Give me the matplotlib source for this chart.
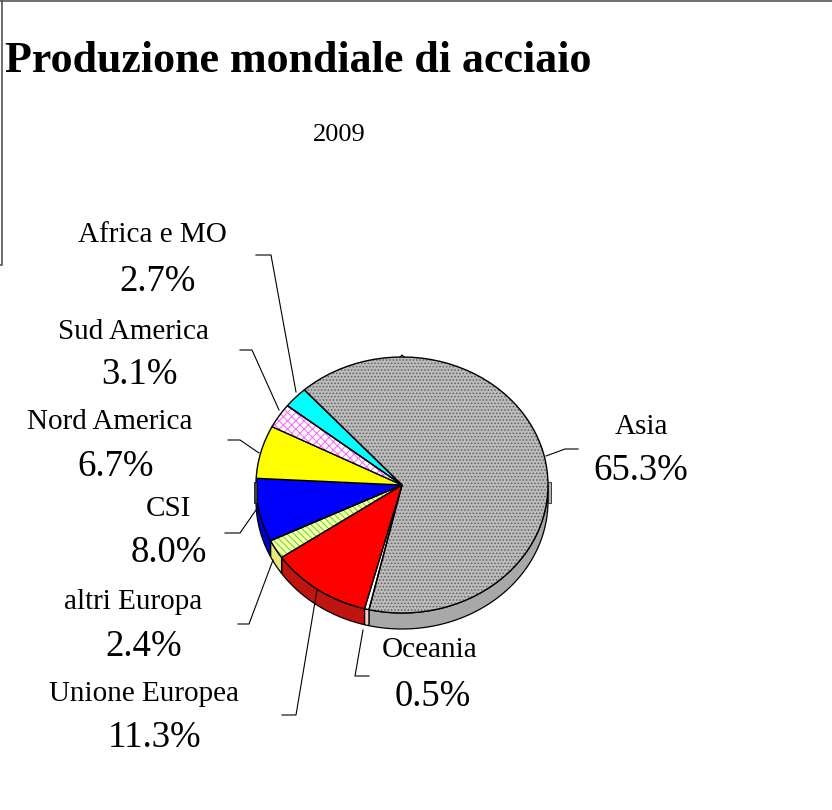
#!/usr/bin/env python3
"""Produzione mondiale di acciaio 2009 - pie with a fake 3D wall"""

import numpy as np
import matplotlib
matplotlib.use('Agg')
import matplotlib.pyplot as plt
from matplotlib.patches import Polygon, Rectangle, Wedge

plt.rcParams['font.family'] = ['Liberation Serif', 'DejaVu Serif']
plt.rcParams['hatch.linewidth'] = 0.7

# clockwise from Asia
names = ['Asia', 'Oceania', 'Unione Europea', 'altri Europa', 'CSI',
         'Nord America', 'Sud America', 'Africa e MO']
shares = [65.3, 0.5, 11.3, 2.4, 8.0, 6.7, 3.1, 2.7]

top_colors = ['#bcbcbc', '#ffffff', '#ff0000', '#ffffa8', '#0000ff',
              '#ffff00', '#ffffff', '#00ffff']
side_colors = ['#a8a8a8', '#ffc8c0', '#c01410', '#e8e878', '#0000c8',
               '#c8c800', '#e0c0e0', '#00c8c8']
hatches = ['.....', None, None, '\\\\\\\\\\', None, None, 'xxxx', None]
hatch_colors = ['#606060', None, None, '#40e040', None, None, '#ff60ff', None]

# pixel layout of the reference
W, H = 832, 810
CX, CY, RX, RY = 402, 485, 146, 128
DEPTH = 16

name_pos = [(641, 427), (430, 650), (144, 694), (133, 602),
            (168, 509), (110, 422), (133, 332), (152, 235)]
pct_pos = [(641, 471), (433, 697), (155, 738), (144, 647),
           (169, 553), (116, 467), (139, 375), (158, 282)]
leaders = [
    [(546, 456), (565, 449), (578, 449)],
    [(363, 630), (355, 676), (369, 676)],
    [(317, 590), (296, 715), (282, 715)],
    [(273, 560), (249, 624), (238, 624)],
    [(256, 510), (240, 533), (225, 533)],
    [(259, 453), (240, 440), (228, 440)],
    [(279, 410), (252, 350), (240, 350)],
    [(296, 392), (271, 255), (256, 255)],
]


def draw_pie(fig):
    """Elliptic pie in its own axes, box sized to the ellipse"""
    ax = fig.add_axes([(CX - RX) / W, 1 - (CY + RY) / H, 2 * RX / W, 2 * RY / H])
    wedges, _ = ax.pie(shares, colors=top_colors, startangle=132, counterclock=False,
                       radius=1.0, wedgeprops={'edgecolor': 'black', 'linewidth': 1.0})
    ax.set_aspect('auto')
    ax.set_xlim(-1, 1)
    ax.set_ylim(-1, 1)
    ax.patch.set_visible(False)

    drop = 2 * DEPTH / (2 * RY)
    for i, w in enumerate(wedges):
        w.set_zorder(3)
        w.set_clip_on(False)
        if hatches[i]:
            w.set_hatch(hatches[i])
            w.set_edgecolor(hatch_colors[i])
            w.set_linewidth(0)
            outline = Wedge((0, 0), 1, w.theta1, w.theta2, fill=False,
                            edgecolor='black', linewidth=1.0, zorder=4, clip_on=False)
            ax.add_patch(outline)

        # wall only on the lower half
        t1, t2 = max(w.theta1, -180), min(w.theta2, 0)
        if t2 <= t1:
            continue
        th = np.radians(np.linspace(t1, t2, 60))
        upper = np.column_stack([np.cos(th), np.sin(th)])
        lower = upper[::-1] - [0, drop]
        wall = Polygon(np.vstack([upper, lower]), closed=True, facecolor=side_colors[i],
                       edgecolor='black', linewidth=0.9, zorder=2, clip_on=False)
        ax.add_patch(wall)
    return ax


def draw_overlay(fig):
    """Text, leaders and frame in pixel coords"""
    ax = fig.add_axes([0, 0, 1, 1])
    ax.set_xlim(0, W)
    ax.set_ylim(H, 0)
    ax.axis('off')

    ax.plot([2, 2, 0], [0, 265, 265], color='#555555', lw=1.2, clip_on=False)
    ax.plot([0, W], [0.5, 0.5], color='#555555', lw=1.2, clip_on=False)

    # small tabs the original renders at the sides and top of the ellipse
    ax.add_patch(Rectangle((254, 482), 3, 21, fc='#404040', ec='black', lw=0.5))
    ax.add_patch(Rectangle((548, 482), 3, 21, fc='#b2b2b2', ec='black', lw=0.5))
    ax.plot([400, 402, 404], [357, 355, 357], color='black', lw=0.8)

    ax.text(5, 61, 'Produzione mondiale di acciaio', fontsize=31.7, fontweight='bold',
            ha='left', va='center')
    ax.text(339, 135, '2009', fontsize=19, ha='center', va='center')

    for i, name in enumerate(names):
        ax.text(*name_pos[i], name, fontsize=21, ha='center', va='center')
        ax.text(*pct_pos[i], f'{shares[i]:.1f}%', fontsize=26.5, ha='center', va='center')
        xs, ys = zip(*leaders[i])
        ax.plot(xs, ys, color='black', lw=0.8, zorder=5)


def main():
    fig = plt.figure(figsize=(W / 100, H / 100), dpi=100)
    draw_pie(fig)
    draw_overlay(fig)
    fig.savefig('out.png', dpi=100)


if __name__ == '__main__':
    main()
